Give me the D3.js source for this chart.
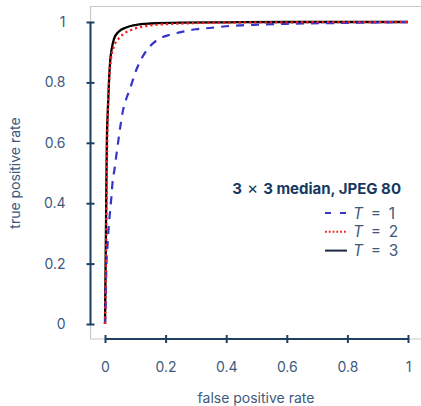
<!DOCTYPE html>
<html>
<head>
<meta charset="utf-8">
<script src="https://cdn.jsdelivr.net/npm/d3@7"></script>
<style>
  body { margin: 0; background: #fff; }
  svg { font-family: Inter, Roboto, sans-serif; }
</style>
</head>
<body>
<div id="chart"></div>
<script>
// ROC curves, [false positive rate, true positive rate]
const rocT1 = [[0,0],[0.002,0.05],[0.004,0.17],[0.0056,0.22],[0.009,0.27],[0.012,0.32],[0.0165,0.37],
  [0.021,0.42],[0.025,0.47],[0.031,0.51],[0.037,0.555],[0.043,0.6],[0.05,0.65],[0.058,0.7],[0.07,0.745],
  [0.083,0.78],[0.099,0.83],[0.116,0.87],[0.149,0.92],[0.18,0.945],[0.215,0.958],[0.257,0.968],[0.3,0.976],
  [0.353,0.981],[0.4,0.986],[0.45,0.989],[0.5,0.991],[0.6,0.994],[0.8,0.997],[1,1]];
const rocT2 = [[0,0],[0.002,0.1],[0.004,0.3],[0.006,0.5],[0.008,0.65],[0.011,0.75],[0.015,0.83],
  [0.02,0.88],[0.03,0.92],[0.045,0.945],[0.065,0.963],[0.09,0.975],[0.12,0.984],[0.16,0.99],
  [0.25,0.995],[0.4,0.998],[0.6,0.999],[1,1]];
const rocT3 = [[0,0],[0.002,0.2],[0.004,0.4],[0.006,0.6],[0.009,0.7],[0.013,0.8],[0.017,0.87],
  [0.022,0.91],[0.03,0.945],[0.045,0.968],[0.07,0.982],[0.1,0.99],[0.15,0.995],[0.25,0.998],
  [0.4,0.999],[0.6,1],[1,1]];
const tickValues = [0, 0.2, 0.4, 0.6, 0.8, 1];
const seriesNames = ["1", "2", "3"];
const chartTitle = ["3", "\u00d7", "3 median, JPEG 80"];

const WIDTH = 421, HEIGHT = 406;
const AXIS_COLOR = "#1f4063";
const TEXT_COLOR = "#3d5a7d";

const svg = d3.select("#chart").append("svg").attr("width", WIDTH).attr("height", HEIGHT);

const x = d3.scaleLinear().domain([0, 1]).range([105, 408]);
const y = d3.scaleLinear().domain([0, 1]).range([324, 22]);

// grey frame
svg.append("path")
    .attr("d", "M430,6.5H90.5V339H430")
    .attr("fill", "none").attr("stroke", "#c8c8c8").attr("stroke-width", 1.2);

// axes with crossing ticks
const yAxis = svg.append("g").attr("transform", "translate(90.5,0)")
    .call(d3.axisLeft(y).tickValues(tickValues).tickFormat(d3.format("")).tickSize(4).tickPadding(21));
const xAxis = svg.append("g").attr("transform", "translate(0,339)")
    .call(d3.axisBottom(x).tickValues(tickValues).tickFormat(d3.format("")).tickSize(4).tickPadding(19));

[yAxis, xAxis].forEach(g => {
    g.select(".domain").remove();
    g.selectAll(".tick line").attr("stroke", AXIS_COLOR).attr("stroke-width", 2);
    g.selectAll(".tick text").attr("fill", TEXT_COLOR).attr("font-size", 14)
        .attr("font-family", "Inter, sans-serif");
});
yAxis.selectAll(".tick line").attr("x1", 4).attr("x2", -4);
xAxis.selectAll(".tick line").attr("y1", -4).attr("y2", 4);
yAxis.append("line").attr("y1", y(0)).attr("y2", y(1)).attr("stroke", AXIS_COLOR).attr("stroke-width", 2);
xAxis.append("line").attr("x1", x(0)).attr("x2", x(1)).attr("stroke", AXIS_COLOR).attr("stroke-width", 2);

// axis titles
svg.append("text").attr("x", 256).attr("y", 403).attr("text-anchor", "middle")
    .attr("fill", TEXT_COLOR).attr("font-size", 14).text("false positive rate");
svg.append("text").attr("transform", "translate(20,173) rotate(-90)").attr("text-anchor", "middle")
    .attr("fill", TEXT_COLOR).attr("font-size", 14).text("true positive rate");

// curves (black first so the dashed and dotted ones show on top)
const line = d3.line().x(d => x(d[0])).y(d => y(d[1])).curve(d3.curveMonotoneX);
const styles = [
    { data: rocT1, color: "#3535cc", dash: "8,7", width: 2.2 },
    { data: rocT2, color: "#ff1a1a", dash: "2.2,3", width: 2.3 },
    { data: rocT3, color: "#000000", dash: null, width: 2.3 }
];
[2, 0, 1].forEach(i => {
    const s = styles[i];
    svg.append("path").datum(s.data)
        .attr("d", line)
        .attr("fill", "none")
        .attr("stroke", s.color)
        .attr("stroke-width", s.width)
        .attr("stroke-dasharray", s.dash);
});

// legend title, the × set wider like a math sign
const title = svg.append("text").attr("x", 401).attr("y", 194).attr("text-anchor", "end")
    .attr("fill", "#163a5f").attr("font-weight", "bold").attr("font-size", 15);
title.append("tspan").text(chartTitle[0]);
title.append("tspan").attr("font-weight", "normal").attr("font-size", 17).attr("dx", 5).text(chartTitle[1]);
title.append("tspan").attr("dx", 5).text(chartTitle[2]);

const legendColors = ["#3535cc", "#ff1a1a", "#1a2a40"];
const legendDash = ["6,9", "1.8,2", null];
const legend = svg.append("g");
seriesNames.forEach((name, i) => {
    const ly = 213 + i * 18.8;
    legend.append("line").attr("x1", 325).attr("x2", 347).attr("y1", ly).attr("y2", ly)
        .attr("stroke", legendColors[i]).attr("stroke-width", 2)
        .attr("stroke-dasharray", legendDash[i]);
    const t = legend.append("text").attr("x", 353).attr("y", ly + 5.5)
        .attr("fill", TEXT_COLOR).attr("font-size", 15.5);
    t.append("tspan").attr("font-style", "italic").text("T");
    t.append("tspan").text("\u2002=\u2002" + name);
});
</script>
</body>
</html>
